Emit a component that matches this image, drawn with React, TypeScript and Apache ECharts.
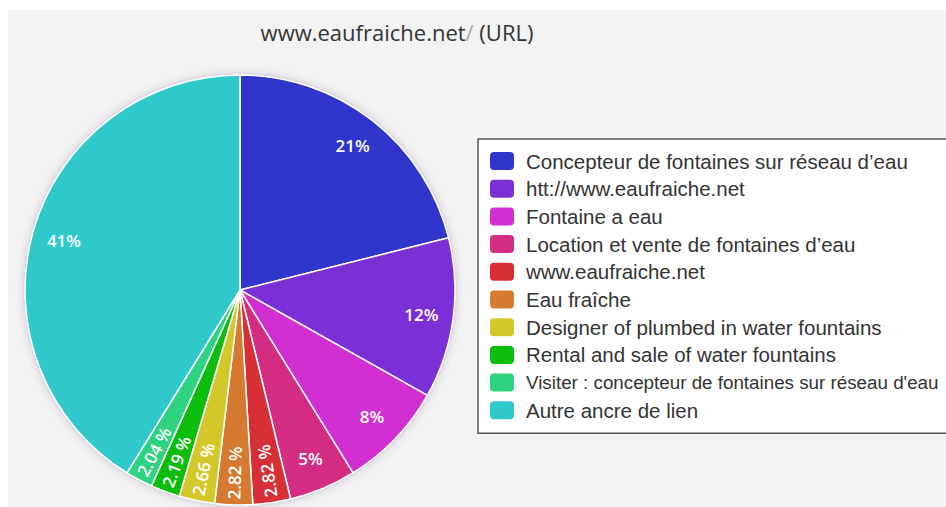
import React, { useEffect, useRef } from "react";
import * as echarts from "echarts";

const chartTitle = "www.eaufraiche.net";
const titleSuffix = " (URL)";

const categories = [
  "Concepteur de fontaines sur réseau d’eau",
  "htt://www.eaufraiche.net",
  "Fontaine a eau",
  "Location et vente de fontaines d’eau",
  "www.eaufraiche.net",
  "Eau fraîche",
  "Designer of plumbed in water fountains",
  "Rental and sale of water fountains",
  "Visiter : concepteur de fontaines sur réseau d'eau",
  "Autre ancre de lien",
];

const values = [21, 12, 8, 5, 2.82, 2.82, 2.66, 2.19, 2.04, 41];

const pctLabels = ["21%", "12%", "8%", "5%", "2.82 %", "2.82 %", "2.66 %", "2.19 %", "2.04 %", "41%"];

const radialLabel = [false, false, false, false, true, true, true, true, true, false];

const colors = [
  "#3036cc",
  "#7b2fd6",
  "#d22fd2",
  "#d42c82",
  "#d72f35",
  "#d57a30",
  "#d4c72a",
  "#0dbd0d",
  "#2ed382",
  "#2fc9cc",
];

export default function App() {
  const ref = useRef<HTMLDivElement>(null);

  useEffect(() => {
    if (!ref.current) return;
    const chart = echarts.init(ref.current, null, { renderer: "svg" });
    const center = [232, 280];
    const R = 215;

    const total = values.reduce((a, b) => a + b, 0);
    let acc = 0;
    const midAngles = values.map((v) => {
      const mid = ((acc + v / 2) / total) * 360;
      acc += v;
      return mid;
    });

    const mainData = categories.map((name, i) => ({
      name,
      value: values[i],
      itemStyle: { color: colors[i] },
    }));

    const labelData = categories.map((name, i) => {
      const t = (midAngles[i] * Math.PI) / 180;
      const rot = (Math.atan2(-Math.cos(t), -Math.sin(t)) * 180) / Math.PI;
      return {
        name,
        value: values[i],
        label: {
          formatter: pctLabels[i],
          rotate: radialLabel[i] ? rot : 0,
        },
      };
    });

    chart.setOption({
      animation: false,
      backgroundColor: "#f3f3f3",
      title: {
        text: chartTitle + "{s|/}" + titleSuffix,
        left: 384,
        top: 6,
        textAlign: "center",
        textStyle: {
          fontFamily: "Open Sans",
          fontSize: 22,
          fontWeight: "normal",
          color: "#333",
          rich: { s: { fontFamily: "Open Sans", fontSize: 22, color: "#aaa" } },
        },
      },
      legend: {
        orient: "vertical",
        left: 470,
        top: 129,
        padding: [11, 40, 12, 10],
        backgroundColor: "#ffffff",
        borderColor: "#555",
        borderWidth: 1.5,
        borderRadius: 0,
        itemWidth: 26,
        itemHeight: 20,
        itemGap: 5.7,
        icon: "roundRect",
        selectedMode: false,
        data: categories.map((name, i) => ({
          name,
          itemStyle: { color: colors[i] },
          textStyle: i === 8 ? { fontSize: 18.8 } : undefined,
        })),
        textStyle: {
          fontFamily: "Liberation Sans",
          fontSize: 20.5,
          color: "#333",
          lineHeight: 20,
          padding: [0, 0, 0, 6],
        },
      },
      series: [
        {
          type: "pie",
          silent: true,
          center,
          radius: [0, R],
          z: 1,
          label: { show: false },
          labelLine: { show: false },
          itemStyle: {
            color: "#f3f3f3",
            shadowBlur: 8,
            shadowColor: "rgba(80,60,120,0.35)",
          },
          data: [{ value: 1, name: "__bg" }],
        },
        {
          type: "pie",
          center,
          radius: [0, R],
          startAngle: 90,
          clockwise: true,
          z: 2,
          silent: true,
          label: { show: false },
          labelLine: { show: false },
          emphasis: { disabled: true },
          itemStyle: { borderColor: "#ffffff", borderWidth: 1.5 },
          data: mainData,
        },
        {
          type: "pie",
          center,
          radius: [145, R],
          startAngle: 90,
          clockwise: true,
          z: 3,
          silent: true,
          emphasis: { disabled: true },
          itemStyle: { color: "rgba(0,0,0,0)", borderWidth: 0 },
          labelLine: { show: false },
          label: {
            show: true,
            position: "inside",
            color: "#ffffff",
            fontFamily: "Open Sans",
            fontSize: 17,
            fontWeight: 600,
          },
          data: labelData,
        },
      ],
    });

    return () => chart.dispose();
  }, []);

  return (
    <div
      ref={ref}
      style={{ position: "absolute", left: 8, top: 10, width: 938, height: 497 }}
    />
  );
}
